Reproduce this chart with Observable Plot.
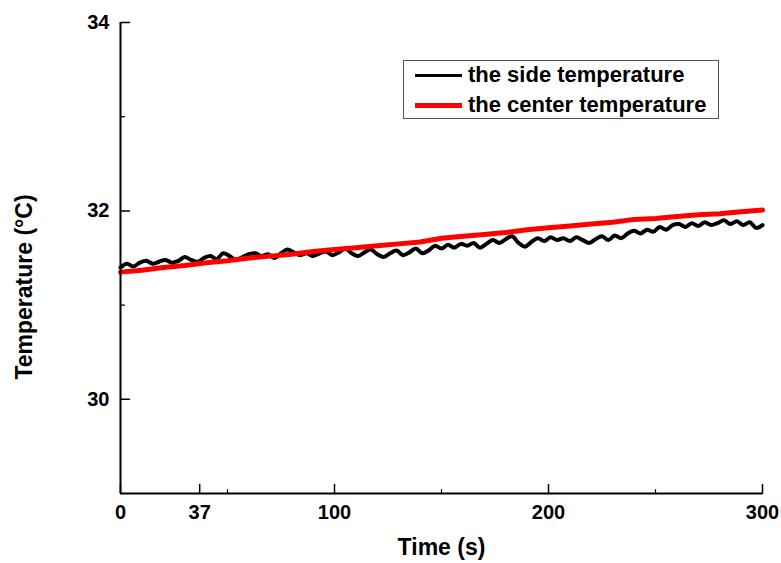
<!DOCTYPE html>
<html>
<head>
<meta charset="utf-8">
<script src="https://cdn.jsdelivr.net/npm/d3@7"></script>
<script src="https://cdn.jsdelivr.net/npm/@observablehq/plot@0.6"></script>
<style>
  html, body { margin: 0; padding: 0; background: #fff; }
  #wrap { position: relative; width: 781px; height: 563px; font-family: "Liberation Sans", Arial, sans-serif; }
  #legend { position: absolute; left: 403px; top: 60px; width: 316px; height: 59px; border: 1px solid #555; box-sizing: border-box; background: #fff; }
  .row { position: absolute; left: 0; height: 26px; line-height: 26px; display: flex; align-items: center; font-weight: bold; font-size: 22px; color: #000; white-space: nowrap; }
  .sw { width: 47px; height: 3px; margin-left: 11px; margin-right: 6px; }
</style>
</head>
<body>
<div id="wrap">
  <div id="chart"></div>
  <div id="legend">
    <div class="row" style="top:1px"><span class="sw" style="background:#000"></span>the side temperature</div>
    <div class="row" style="top:31px"><span class="sw" style="background:#f00;height:5px"></span>the center temperature</div>
  </div>
</div>
<script>
// Side temperature, sampled every 3 s (0..300 s)
const sideTime = d3.range(0, 301, 3);
const sideTemp = [
  31.40, 31.44, 31.41, 31.45, 31.47, 31.44, 31.46, 31.48, 31.45, 31.47,
  31.51, 31.48, 31.46, 31.50, 31.52, 31.49, 31.55, 31.52, 31.48, 31.51,
  31.54, 31.55, 31.52, 31.54, 31.50, 31.55, 31.59, 31.56, 31.53, 31.55,
  31.52, 31.55, 31.57, 31.53, 31.56, 31.60, 31.55, 31.52, 31.56, 31.59,
  31.54, 31.51, 31.55, 31.58, 31.53, 31.56, 31.60, 31.55, 31.58, 31.63,
  31.60, 31.64, 31.61, 31.65, 31.63, 31.66, 31.61, 31.65, 31.69, 31.66,
  31.70, 31.73, 31.66, 31.62, 31.67, 31.71, 31.68, 31.72, 31.69, 31.71,
  31.68, 31.72, 31.69, 31.66, 31.70, 31.73, 31.69, 31.74, 31.71, 31.76,
  31.79, 31.76, 31.80, 31.78, 31.83, 31.80, 31.85, 31.86, 31.83, 31.87,
  31.84, 31.88, 31.85, 31.87, 31.90, 31.86, 31.89, 31.85, 31.88, 31.82,
  31.85
];
// Center temperature, sampled every 10 s
const centerTime = d3.range(0, 301, 10);
const centerTemp = [
  31.35, 31.37, 31.40, 31.42, 31.45, 31.47, 31.50, 31.52, 31.54, 31.57,
  31.59, 31.61, 31.63, 31.65, 31.67, 31.71, 31.73, 31.75, 31.77, 31.80,
  31.82, 31.84, 31.86, 31.88, 31.91, 31.92, 31.94, 31.96, 31.97, 31.99,
  32.01
];
const xTicks = [0, 37, 100, 200, 300];
const xMinor = [50, 150, 250];
const yTicks = [30, 32, 34];
const yMinor = [31, 33];
const xLabel = "Time (s)";
const yLabel = "Temperature (°C)";

const side = sideTime.map((t, i) => ({t, v: sideTemp[i]}));
const center = centerTime.map((t, i) => ({t, v: centerTemp[i]}));

const tickShape = {draw(ctx, l) { ctx.moveTo(0, 0); ctx.lineTo(0, -l); }};

const chart = Plot.plot({
  width: 781,
  height: 563,
  marginLeft: 120,
  marginRight: 19,
  marginTop: 22,
  marginBottom: 70,
  style: {fontFamily: "'Liberation Sans', Arial, sans-serif", fontSize: "20px", fontWeight: "bold", color: "#000", background: "#fff"},
  x: {domain: [0, 300]},
  y: {domain: [29, 34]},
  marks: [
    Plot.axisX(xTicks, {tickSize: 0, tickPadding: 11, label: null, fontSize: 20, fontWeight: "bold", tickFormat: d => String(d)}),
    Plot.axisY(yTicks, {tickSize: 0, tickPadding: 11, label: null, fontSize: 20, fontWeight: "bold", tickFormat: d => String(d)}),
    // inward major/minor ticks
    Plot.vector(xTicks, {x: d => d, y: () => 29, length: 9, rotate: 0, anchor: "start", shape: tickShape, stroke: "#000", strokeWidth: 1.5}),
    Plot.vector(xMinor, {x: d => d, y: () => 29, length: 4, rotate: 0, anchor: "start", shape: tickShape, stroke: "#000", strokeWidth: 1.2}),
    Plot.vector(yTicks, {x: () => 0, y: d => d, length: 9, rotate: 90, anchor: "start", shape: tickShape, stroke: "#000", strokeWidth: 1.5}),
    Plot.vector(yMinor, {x: () => 0, y: d => d, length: 4, rotate: 90, anchor: "start", shape: tickShape, stroke: "#000", strokeWidth: 1.2}),
    Plot.line(side, {x: "t", y: "v", stroke: "#000", strokeWidth: 4, curve: "catmull-rom"}),
    Plot.line(center, {x: "t", y: "v", stroke: "#ff0000", strokeWidth: 5}),
    Plot.ruleX([0], {stroke: "#000", strokeWidth: 2}),
    Plot.ruleY([29], {stroke: "#000", strokeWidth: 2}),
    Plot.text([xLabel], {frameAnchor: "bottom", dy: 61, fontSize: 23, fontWeight: "bold", fill: "#000"}),
    Plot.text([yLabel], {frameAnchor: "left", textAnchor: "middle", dx: -96, dy: 29, rotate: -90, fontSize: 23, fontWeight: "bold", fill: "#000"})
  ]
});
document.getElementById("chart").appendChild(chart);
</script>
</body>
</html>
